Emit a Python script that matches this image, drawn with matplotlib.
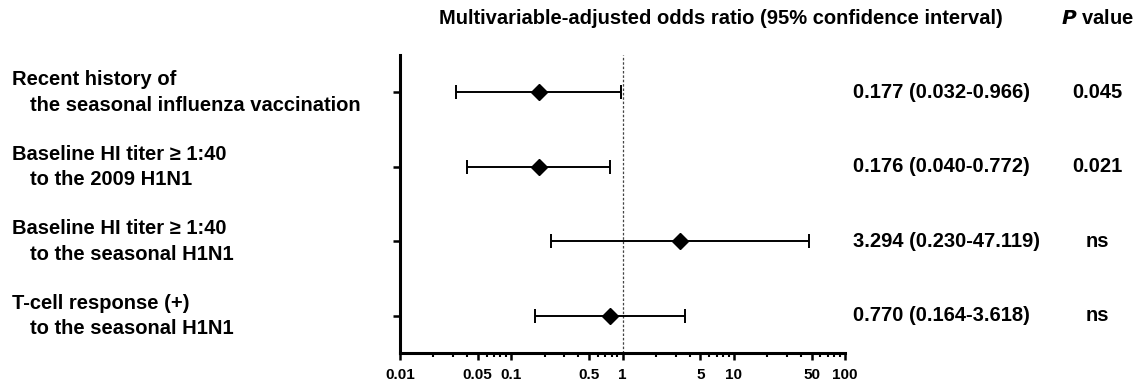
import matplotlib.pyplot as plt
import matplotlib.transforms as mtransforms
import numpy as np

############## DATA ##############
labels = [
    ("Recent history of", "the seasonal influenza vaccination"),
    ("Baseline HI titer \u2265 1:40", "to the 2009 H1N1"),
    ("Baseline HI titer \u2265 1:40", "to the seasonal H1N1"),
    ("T-cell response (+)", "to the seasonal H1N1"),
]
odds = [0.177, 0.176, 3.294, 0.770]
lower = [0.032, 0.040, 0.230, 0.164]
upper = [0.966, 0.772, 47.119, 3.618]
ci_text = ["0.177 (0.032-0.966)", "0.176 (0.040-0.772)",
           "3.294 (0.230-47.119)", "0.770 (0.164-3.618)"]
p_text = ["0.045", "0.021", "ns", "ns"]
xticks = [0.01, 0.05, 0.1, 0.5, 1, 5, 10, 50, 100]
xticklabels = ["0.01", "0.05", "0.1", "0.5", "1", "5", "10", "50", "100"]

############## PLOT ##############
plt.rcParams['font.family'] = ['Liberation Sans', 'DejaVu Sans']
plt.rcParams['font.weight'] = 'bold'

fig = plt.figure(figsize=(11.36, 3.83), dpi=100)
ax = fig.add_axes([0.352, 0.078, 0.392, 0.778])

ypos = np.arange(len(odds), 0, -1)
xerr = [np.array(odds) - np.array(lower), np.array(upper) - np.array(odds)]
ax.errorbar(odds, ypos, xerr=xerr, fmt='D', color='black', ms=8,
            elinewidth=1.4, capsize=5, capthick=1.4)
ax.axvline(1, color='#444444', ls=(0, (2, 1.5)), lw=0.9, zorder=0)

ax.set_xscale('log')
ax.set_xlim(0.01, 100)
ax.set_ylim(0.5, 4.5)
ax.set_xticks(xticks)
ax.set_xticklabels(xticklabels, fontsize=11, fontweight='bold')
ax.set_xticks([m * 10.0**e for e in range(-2, 2) for m in range(2, 10)
               if m not in (5,)], minor=True)
ax.xaxis.set_minor_formatter(plt.NullFormatter())
ax.set_yticks(ypos)
ax.set_yticklabels([])
ax.tick_params(axis='both', which='major', length=5, width=1.8)
ax.tick_params(axis='x', which='minor', length=3, width=1.5)
ax.tick_params(axis='x', pad=6)
for s in ['top', 'right']:
    ax.spines[s].set_visible(False)
for s in ['left', 'bottom']:
    ax.spines[s].set_linewidth(2.2)

trans = mtransforms.blended_transform_factory(fig.transFigure, ax.transData)
for y, (l1, l2), ct, pt in zip(ypos, labels, ci_text, p_text):
    ax.text(0.011, y + 0.17, l1, transform=trans, fontsize=14.5,
            fontweight='bold', ha='left', va='center')
    ax.text(0.026, y - 0.17, l2, transform=trans, fontsize=14.5,
            fontweight='bold', ha='left', va='center')
    ax.text(0.751, y, ct, transform=trans, fontsize=14.5,
            fontweight='bold', ha='left', va='center')
    ax.text(0.966, y, pt, transform=trans, fontsize=14.5,
            fontweight='bold', ha='center', va='center')

fig.text(0.635, 0.953, "Multivariable-adjusted odds ratio (95% confidence interval)",
         fontsize=14.5, fontweight='bold', ha='center', va='center')
fig.text(0.966, 0.953, r"$\bf\it{P}$ value", fontsize=14.5, fontweight='bold',
         ha='center', va='center')

fig.savefig('out.png', dpi=100)
